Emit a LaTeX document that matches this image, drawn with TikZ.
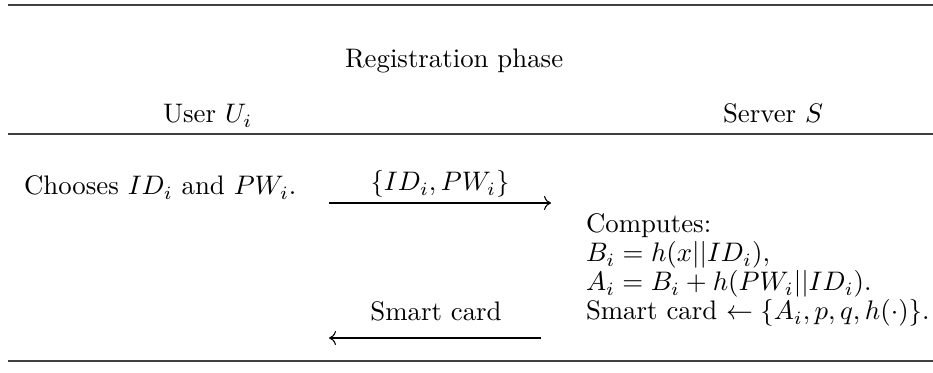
\documentclass[tikz,border=0pt]{standalone}
\usetikzlibrary{arrows.meta}
\begin{document}
\begin{tikzpicture}[x=0.3731pt,y=-0.3731pt,
  txt/.style={anchor=base west,inner sep=0pt,outer sep=0pt},
  lbl/.style={anchor=base,inner sep=0pt,outer sep=0pt},
  rule/.style={line width=0.45pt,draw=black!75},
  msg/.style={line width=0.4pt,-{To[length=2.6pt,width=5.2pt]}}]
\useasboundingbox (0,0) rectangle (933,373);
% horizontal rules of the table
\coordinate (t1) at (8,5);   \coordinate (t2) at (933,5);
\coordinate (h1) at (8,134); \coordinate (h2) at (933,134);
\coordinate (b1) at (8,361); \coordinate (b2) at (933,361);
\draw[rule] (t1) -- (t2);
\draw[rule] (h1) -- (h2);
\draw[rule] (b1) -- (b2);
% header
\node[txt] (phase) at (345,68) {Registration phase};
\node[txt] (user) at (163,123) {User $U_i$};
\node[txt] (server) at (723,123) {Server $S$};
% user side
\node[txt] (choose) at (24,195) {Chooses $ID_i$ and $PW_i$.};
% server side
\node[txt] (comp) at (586,233) {Computes:};
\node[txt] (bi) at (586,262) {$B_i=h(x||ID_i)$,};
\node[txt] (ai) at (586,291) {$A_i=B_i+h(PW_i||ID_i)$.};
\node[txt] (sc) at (586,320) {Smart card $\leftarrow\{A_i,p,q,h(\cdot)\}$.};
% messages
\coordinate (m1s) at (329,203); \coordinate (m1e) at (551,203);
\draw[msg] (m1s) -- (m1e);
\node[lbl] (m1l) at (440,191) {$\{ID_i,PW_i\}$};
\coordinate (m2s) at (541,338); \coordinate (m2e) at (329,338);
\draw[msg] (m2s) -- (m2e);
\node[lbl] (m2l) at (436,321) {Smart card};
\end{tikzpicture}
\end{document}
